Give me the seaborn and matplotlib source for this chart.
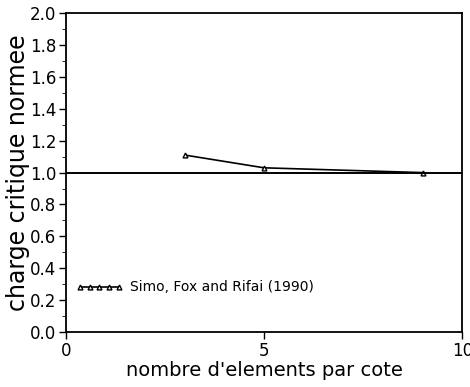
import matplotlib
matplotlib.use("Agg")
import matplotlib.pyplot as plt
import seaborn as sns
import pandas as pd
from matplotlib.ticker import MultipleLocator

elements = [3, 5, 9]
charge = [1.11, 1.03, 1.0]
series_label = "Simo, Fox and Rifai (1990)"

sns.set_style("ticks")
plt.rcParams['font.family'] = ['DejaVu Sans']

df = pd.DataFrame({"x": elements, "y": charge})

fig = plt.figure(figsize=(4.7, 3.87), dpi=100)
ax = fig.add_axes([0.1404, 0.142, 0.843, 0.824])

sns.lineplot(data=df, x="x", y="y", ax=ax, color="black", lw=1.2,
             marker="^", markersize=3.5, markerfacecolor="white",
             markeredgecolor="black", markeredgewidth=1.0, label=series_label)
ax.axhline(1.0, color="black", lw=1.4)

ax.set_xlim(0, 10)
ax.set_ylim(0, 2.0)
ax.xaxis.set_major_locator(MultipleLocator(5))
ax.yaxis.set_major_locator(MultipleLocator(0.2))
ax.yaxis.set_minor_locator(MultipleLocator(0.1))
ax.set_yticklabels([f"{v:.1f}" for v in ax.get_yticks()])
ax.tick_params(axis="both", which="major", labelsize=12, length=5, direction="out",
               width=1, colors="black", pad=2)
ax.tick_params(axis="y", which="minor", length=3, direction="out", colors="black")
ax.set_xlabel("nombre d'elements par cote", fontsize=14, labelpad=1, color="black")
ax.set_ylabel("charge critique normee", fontsize=17, labelpad=0, color="black")
for s in ax.spines.values():
    s.set_linewidth(1.3)
    s.set_color("black")

leg = ax.legend(loc="center left", bbox_to_anchor=(0.0, 0.14), frameon=False,
                numpoints=5, handlelength=3.4, handletextpad=0.5, fontsize=10,
                borderaxespad=0.3)
for t in leg.get_texts():
    t.set_color("black")

fig.savefig("out.png", dpi=100)
